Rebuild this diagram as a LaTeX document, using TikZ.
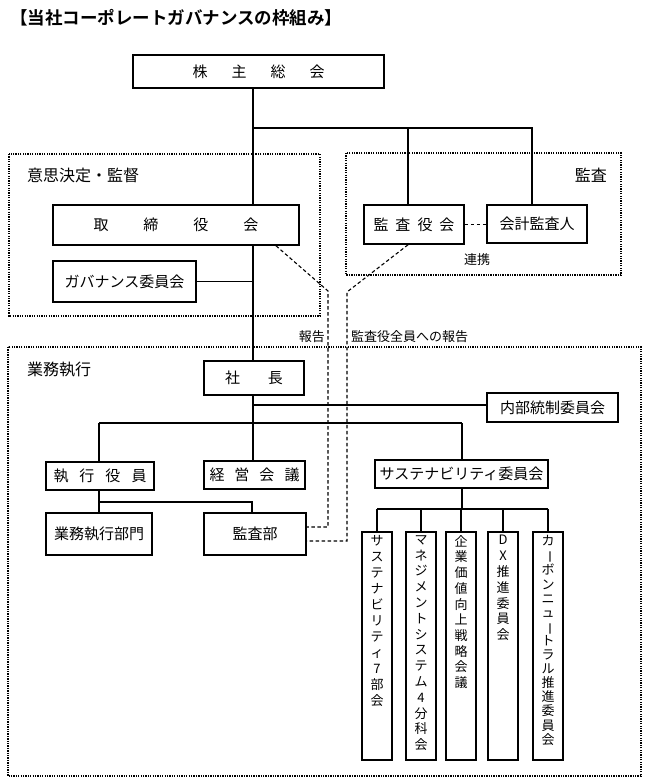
\documentclass[tikz,border=0pt]{standalone}
\usepackage{fontspec}
\usepackage{graphicx}
\setmainfont{Noto Sans CJK JP}[BoldFont={Noto Sans CJK JP Bold}]
\newcommand{\spc}[2]{\makebox[#1]{#2}}
\newcommand{\vbar}{\rotatebox[origin=c]{-90}{ー}}
\begin{document}
\begin{tikzpicture}[x=1pt,y=-1pt,
  box/.style={draw, line width=1.6pt, inner sep=0pt, font=\fontsize{15}{18}\selectfont},
  vbox/.style={draw, line width=1.8pt, inner sep=0pt, minimum width=30pt, minimum height=228pt},
  vtext/.style={inner sep=0pt, align=center, anchor=north},
  conn/.style={line width=1.2pt},
  rptline/.style={line width=1.1pt, dash pattern=on 3.5pt off 2.5pt},
  region/.style={line width=2.6pt, dash pattern=on 1.3pt off 1.1pt},
  lbl/.style={font=\fontsize{16}{19}\selectfont, inner sep=0pt},
  smalllbl/.style={font=\fontsize{13}{15}\selectfont, inner sep=0pt}]
\useasboundingbox (0,0) rectangle (648,783);

\node[anchor=west, inner sep=0pt, font=\fontsize{17.5}{20}\selectfont\bfseries] (title) at (10,18) {【当社コーポレートガバナンスの枠組み】};

% regions
\draw[region] (9,154) rectangle (320,316);
\draw[region] (346,153) rectangle (621,275);
\draw[region] (8,347) rectangle (641,776);
\node[lbl, anchor=west] (lbl1) at (27,175) {意思決定・監督};
\node[lbl, anchor=east] (lbl2) at (607,175) {監査};
\node[lbl, anchor=west] (lbl3) at (27,370) {業務執行};

% nodes
\node[box, minimum width=251pt, minimum height=33pt] (kabu) at (258.5,71.5) {\spc{39pt}{株}\spc{39pt}{主}\spc{39pt}{総}\spc{39pt}{会}};
\node[box, minimum width=246pt, minimum height=40pt] (tori) at (176,225) {\spc{50pt}{取}\spc{50pt}{締}\spc{50pt}{役}\spc{50pt}{会}};
\node[box, minimum width=143pt, minimum height=41pt] (gov) at (124.5,281.5) {ガバナンス委員会};
\node[box, minimum width=100pt, minimum height=39pt] (kansayaku) at (414,224.5) {\spc{22pt}{監}\spc{22pt}{査}\spc{22pt}{役}\spc{22pt}{会}};
\node[box, minimum width=100pt, minimum height=38pt] (kaikei) at (537,224) {会計監査人};
\node[smalllbl] (renkei) at (477,260) {連携};
\node[smalllbl, anchor=east] (hokoku) at (325,337) {報告};
\node[smalllbl, anchor=west] (hokoku2) at (351,337) {監査役全員への報告};

\node[box, minimum width=100pt, minimum height=34pt] (shacho) at (254,378) {\spc{43pt}{社}\spc{43pt}{長}};
\node[box, minimum width=131pt, minimum height=29pt] (naibu) at (552.5,407.5) {内部統制委員会};
\node[box, minimum width=108pt, minimum height=28pt] (shikko) at (100,476) {\spc{26pt}{執}\spc{26pt}{行}\spc{26pt}{役}\spc{26pt}{員}};
\node[box, minimum width=101pt, minimum height=28pt] (keiei) at (254.5,475) {\spc{25pt}{経}\spc{25pt}{営}\spc{25pt}{会}\spc{25pt}{議}};
\node[box, minimum width=173pt, minimum height=28pt] (sust) at (461.5,474) {サステナビリティ委員会};
\node[box, minimum width=106pt, minimum height=42pt] (gyomu) at (99,534) {業務執行部門};
\node[box, minimum width=102pt, minimum height=42pt] (kansabu) at (255,534) {監査部};

\node[vbox] (s1) at (377,646) {};
\node[vbox] (s2) at (421,646) {};
\node[vbox] (s3) at (461,646) {};
\node[vbox] (s4) at (503,646) {};
\node[vbox] (s5) at (548,646) {};
\node[vtext, font=\fontsize{13}{16}\selectfont] (t1) at ([yshift=-4pt]s1.north) {サ\\ス\\テ\\ナ\\ビ\\リ\\テ\\ィ\\7\\部\\会};
\node[vtext, font=\fontsize{13}{15.8}\selectfont] (t2) at ([yshift=-4pt]s2.north) {マ\\ネ\\ジ\\メ\\ン\\ト\\シ\\ス\\テ\\ム\\4\\分\\科\\会};
\node[vtext, font=\fontsize{13}{15.7}\selectfont] (t3) at ([yshift=-4pt]s3.north) {企\\業\\価\\値\\向\\上\\戦\\略\\会\\議};
\node[vtext, font=\fontsize{13}{15.8}\selectfont] (t4) at ([yshift=-4pt]s4.north) {D\\X\\推\\進\\委\\員\\会};
\node[vtext, font=\fontsize{13}{14.1}\selectfont] (t5) at ([yshift=-4pt]s5.north) {カ\\\vbar\\ボ\\ン\\ニ\\ュ\\\vbar\\ト\\ラ\\ル\\推\\進\\委\\員\\会};

% junction coordinates
\coordinate (spine) at (253,128);
\coordinate (ky) at (408,128);
\coordinate (kk) at (532,128);
\coordinate (j405) at (253,405);
\coordinate (sp2) at (253,423);
\coordinate (hl) at (99,423);
\coordinate (hr) at (462,423);
\coordinate (j502) at (99,502);
\coordinate (k502) at (252,502);
\coordinate (sj) at (462,509);
\coordinate (dl) at (328,291);
\coordinate (dr) at (347,292);

% solid connectors
\draw[conn] (kabu.south -| spine) -- (tori.north -| spine);
\draw[conn] (spine) -- (kk) -- (kk |- kaikei.north);
\draw[conn] (ky) -- (ky |- kansayaku.north);
\draw[conn] (tori.south -| spine) -- (shacho.north -| spine);
\draw[conn] (gov.east) -- (gov.east -| spine);
\draw[conn] (shacho.south -| spine) -- (sp2);
\draw[conn] (j405) -- (j405 -| naibu.west);
\draw[conn] (hl) -- (hr);
\draw[conn] (hl) -- (hl |- shikko.north);
\draw[conn] (sp2) -- (sp2 |- keiei.north);
\draw[conn] (hr) -- (hr |- sust.north);
\draw[conn] (hl |- shikko.south) -- (hl |- gyomu.north);
\draw[conn] (j502) -- (k502) -- (k502 |- kansabu.north);
\draw[conn] (hr |- sust.south) -- (sj);
\draw[conn] (s1.north |- sj) -- (s5.north |- sj);
\foreach \i in {1,...,5}{\draw[conn] (s\i.north |- sj) -- (s\i.north);}

% dashed connectors
\draw[rptline] (kansayaku.east) -- (kansayaku.east -| kaikei.west);
\draw[rptline] ([xshift=100pt]tori.south) -- (dl) -- (dl |- 0,527) -- ([yshift=7pt]kansabu.east);
\draw[rptline] ([xshift=-6pt]kansayaku.south) -- (dr) -- (dr |- 0,541) -- ([yshift=-7pt]kansabu.east);
\end{tikzpicture}
\end{document}
